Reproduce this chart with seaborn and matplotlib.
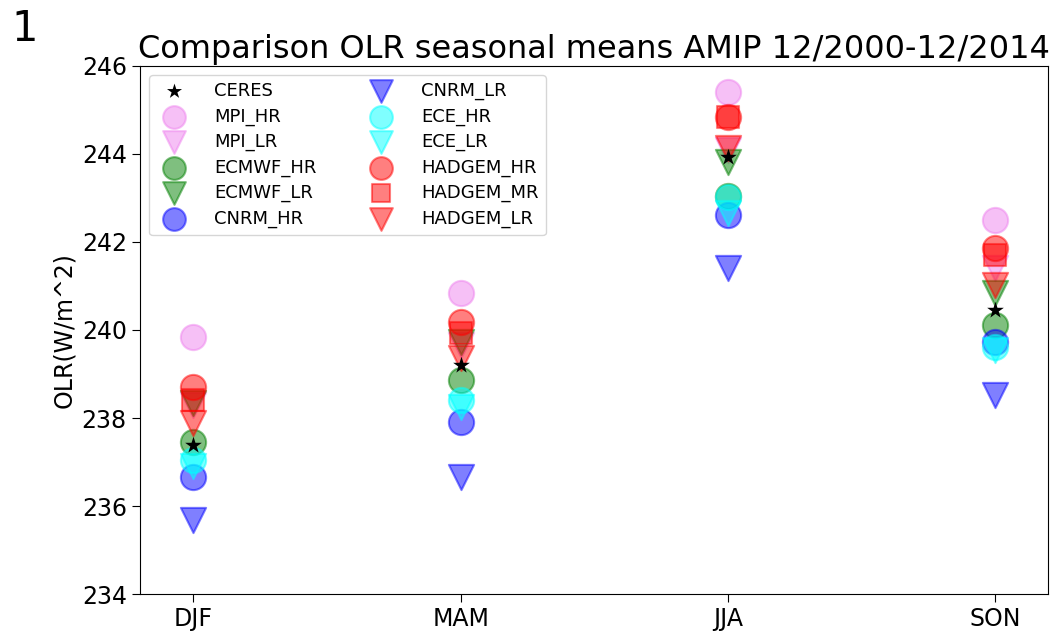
import numpy as np
import pandas as pd
import matplotlib
matplotlib.use("Agg")
import matplotlib.pyplot as plt
import seaborn as sns

seasons = ['DJF', 'MAM', 'JJA', 'SON']

# seasonal means (W/m^2)
ceres      = [237.39, 239.20, 243.93, 240.45]
mpi_hr     = [239.84, 240.84, 245.41, 242.50]
mpi_lr     = [238.30, 239.66, 244.10, 241.40]
ecmwf_hr   = [237.45, 238.86, 243.05, 240.11]
ecmwf_lr   = [238.34, 239.73, 243.82, 240.84]
cnrm_hr    = [236.66, 237.90, 242.61, 239.73]
cnrm_lr    = [235.68, 236.66, 241.41, 238.52]
ece_hr     = [237.05, 238.41, 243.03, 239.61]
ece_lr     = [236.90, 238.25, 242.66, 239.55]
hadgem_hr  = [238.70, 240.18, 244.84, 241.86]
hadgem_mr  = [238.41, 239.93, 244.84, 241.70]
hadgem_lr  = [237.89, 239.36, 244.14, 241.02]

models = [
    ('MPI_HR', mpi_hr, 'violet', 'o'),
    ('MPI_LR', mpi_lr, 'violet', 'v'),
    ('ECMWF_HR', ecmwf_hr, 'g', 'o'),
    ('ECMWF_LR', ecmwf_lr, 'g', 'v'),
    ('CNRM_HR', cnrm_hr, 'b', 'o'),
    ('CNRM_LR', cnrm_lr, 'b', 'v'),
    ('ECE_HR', ece_hr, 'cyan', 'o'),
    ('ECE_LR', ece_lr, 'cyan', 'v'),
    ('HADGEM_HR', hadgem_hr, 'r', 'o'),
    ('HADGEM_MR', hadgem_mr, 'r', 's'),
    ('HADGEM_LR', hadgem_lr, 'r', 'v'),
]

fig = plt.figure(figsize=(10.61, 6.34), dpi=100)
ax = fig.add_axes([0.132, 0.063, 0.856, 0.833])

sns.scatterplot(x=seasons, y=ceres, marker='*', color='k', s=160,
                edgecolor='k', linewidth=0, label='CERES', zorder=5, ax=ax)

for name, vals, col, mk in models:
    size = 230 if mk == 's' else 330  # square looks smaller in the original
    sns.scatterplot(x=seasons, y=vals, marker=mk, color=col, s=size,
                    alpha=0.5, edgecolor=col, linewidth=1.5, label=name, ax=ax)

ax.set_xlim(-0.2, 3.2)
ax.set_ylim(234, 246)
ax.set_yticks(np.arange(234, 247, 2))
ax.tick_params(labelsize=17, length=6)
ax.set_ylabel('OLR(W/m^2)', fontsize=17)
ax.set_title('Comparison OLR seasonal means AMIP 12/2000-12/2014', fontsize=23, pad=6)
fig.text(0.011, 0.935, '1', fontsize=30)

ax.legend(loc='upper left', ncol=2, fontsize=13, markerscale=0.9,
          labelspacing=0.4, columnspacing=2.6, handletextpad=1.2,
          borderaxespad=0.5)

fig.savefig('out.png', dpi=100)
